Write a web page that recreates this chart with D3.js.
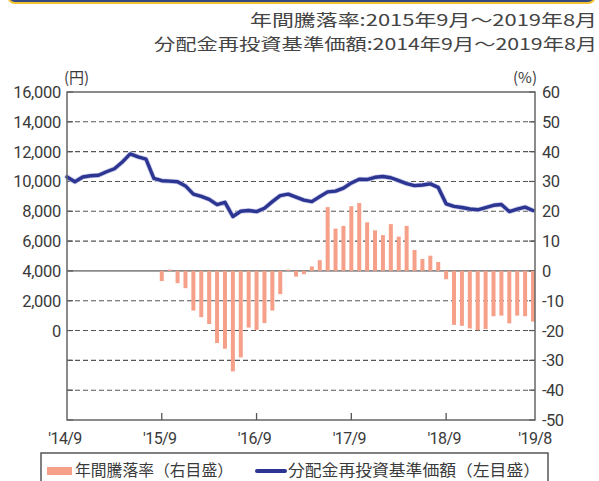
<!DOCTYPE html>
<html><head><meta charset="utf-8">
<script src="https://cdn.jsdelivr.net/npm/d3@7"></script>
<style>
html,body{margin:0;padding:0;background:#fff;}
svg{display:block;}
</style></head>
<body>
<svg id="chart" width="599" height="481"></svg>
<script>
// ---- data ----
const months = d3.timeMonth.range(new Date(2014, 8, 1), new Date(2019, 8, 1)).map(d3.timeFormat("%Y-%m"));
// 分配金再投資基準価額 (円), 2014/9 - 2019/8
const navValues = [
  10300, 9980, 10300, 10380, 10420, 10650, 10850, 11300, 11850, 11650,
  11500, 10200, 10050, 10020, 9980, 9700, 9150, 9000, 8800, 8450,
  8600, 7650, 8000, 8050, 7980, 8200, 8650, 9050, 9150, 8950,
  8750, 8650, 8980, 9300, 9350, 9550, 9900, 10150, 10130, 10280,
  10330, 10250, 10050, 9850, 9720, 9760, 9840, 9600, 8500, 8330,
  8250, 8150, 8100, 8250, 8400, 8450, 7980, 8150, 8280, 8050
];
// 年間騰落率 (%), 2015/9 - 2019/8
const returnMonths = months.slice(12);
const returnValues = [
  -3.4, 0.4, -4.1, -5.8, -13.3, -15.5, -17.8, -24.2, -26.1, -33.7,
  -29.0, -19.0, -19.8, -17.5, -13.3, -7.8, 0.4, -1.9, -1.1, 1.5,
  3.6, 21.4, 14.2, 15.1, 21.7, 22.8, 16.3, 13.6, 12.0, 15.7,
  11.5, 15.1, 7.0, 4.0, 5.1, 3.0, -2.8, -18.1, -18.4, -19.3,
  -19.9, -19.5, -15.2, -15.0, -17.6, -15.0, -15.2, -17.0
];
const xTickMonths = ["2014-09", "2015-09", "2016-09", "2017-09", "2018-09", "2019-08"];
const xTickLabels = ["'14/9", "'15/9", "'16/9", "'17/9", "'18/9", "'19/8"];
const leftTicks = [16000, 14000, 12000, 10000, 8000, 6000, 4000, 2000, 0];
const rightTicks = [60, 50, 40, 30, 20, 10, 0, -10, -20, -30, -40, -50];
const headerLines = ["年間騰落率:2015年9月～2019年8月", "分配金再投資基準価額:2014年9月～2019年8月"];
const legendLabels = ["年間騰落率（右目盛）", "分配金再投資基準価額（左目盛）"];
const leftUnit = "(円)", rightUnit = "(%)";

// ---- layout ----
const L = 67, R = 535, T = 92, B = 420;
const svg = d3.select("#chart");
const cjk = "'Noto Sans CJK JP', 'Noto Sans', sans-serif";
const num = "Roboto, 'Liberation Sans', sans-serif";
const txt = "#3a3a3a";

const x = d3.scalePoint().domain(months).range([L, 533]);
const yR = d3.scaleLinear().domain([-50, 60]).range([B, T]);
const yL = d3.scaleLinear().domain([-6000, 16000]).range([B, T]);

// header bar
svg.append("rect").attr("x", 8).attr("y", -22).attr("width", 587).attr("height", 25)
  .attr("rx", 7).attr("fill", "#33497f").attr("stroke", "#f2c230").attr("stroke-width", 2);

// header text
const hdrLen = [347, 443];
headerLines.forEach((t, i) => {
  svg.append("text").attr("x", 597).attr("y", 26 + i * 24)
    .attr("text-anchor", "end").attr("font-family", cjk).attr("font-size", 16)
    .attr("fill", "#444").attr("textLength", hdrLen[i]).attr("lengthAdjust", "spacingAndGlyphs")
    .text(t);
});

// gridlines
svg.append("g").selectAll("line").data(rightTicks.filter(d => d !== 60 && d !== -50)).join("line")
  .attr("x1", L).attr("x2", R).attr("y1", d => yR(d)).attr("y2", d => yR(d))
  .attr("stroke", d => d === 0 ? "#8a8a8a" : "#555")
  .attr("stroke-width", d => d === 0 ? 1.6 : 1.1)
  .attr("stroke-dasharray", d => d === 0 ? null : "5,3");

// inner ticks left/right
svg.append("g").selectAll("line").data(rightTicks).join("line")
  .attr("x1", L).attr("x2", L + 6).attr("y1", d => yR(d)).attr("y2", d => yR(d))
  .attr("stroke", "#555").attr("stroke-width", 1.2);
svg.append("g").selectAll("line").data(rightTicks).join("line")
  .attr("x1", R - 6).attr("x2", R).attr("y1", d => yR(d)).attr("y2", d => yR(d))
  .attr("stroke", "#555").attr("stroke-width", 1.2);

// bars
svg.append("g").selectAll("rect").data(returnValues).join("rect")
  .attr("x", (d, i) => x(returnMonths[i]) - 2)
  .attr("width", 4)
  .attr("y", d => Math.min(yR(d), yR(0)))
  .attr("height", d => Math.abs(yR(d) - yR(0)))
  .attr("fill", "#f6a089");

// line
const line = d3.line().x((d, i) => x(months[i])).y(d => yL(d));
svg.append("path").datum(navValues).attr("d", line)
  .attr("fill", "none").attr("stroke", "#c9cbe8").attr("stroke-width", 5)
  .attr("stroke-linejoin", "round").attr("stroke-linecap", "round");
svg.append("path").datum(navValues).attr("d", line)
  .attr("fill", "none").attr("stroke", "#2c3592").attr("stroke-width", 3.4)
  .attr("stroke-linejoin", "round").attr("stroke-linecap", "round");

// frame
svg.append("rect").attr("x", L).attr("y", T).attr("width", R - L).attr("height", B - T)
  .attr("fill", "none").attr("stroke", "#666").attr("stroke-width", 1.5);

// bottom ticks
svg.append("g").selectAll("line").data(xTickMonths.slice(1, 5)).join("line")
  .attr("x1", d => x(d)).attr("x2", d => x(d)).attr("y1", B).attr("y2", B - 7)
  .attr("stroke", "#555").attr("stroke-width", 1.3);

// left axis labels
svg.append("g").selectAll("text").data(leftTicks).join("text")
  .attr("x", 61).attr("y", d => yL(d) + 6).attr("text-anchor", "end")
  .attr("font-family", num).attr("font-size", 16.5).attr("fill", txt).attr("letter-spacing", -0.3)
  .text(d => d3.format(",")(d));

// right axis labels
svg.append("g").selectAll("text").data(rightTicks).join("text")
  .attr("x", 542).attr("y", d => yR(d) + 6).attr("text-anchor", "start")
  .attr("font-family", num).attr("font-size", 16.5).attr("fill", txt).attr("letter-spacing", -0.5)
  .text(d => d);

// x labels
svg.append("g").selectAll("text").data(xTickMonths).join("text")
  .attr("x", d => x(d) + (d === "2019-08" ? 2 : -2)).attr("y", 444).attr("text-anchor", "middle")
  .attr("font-family", num).attr("font-size", 16).attr("fill", txt).attr("letter-spacing", -0.6)
  .text((d, i) => xTickLabels[i]);

// units
svg.append("text").attr("x", 64).attr("y", 83).attr("font-family", cjk).attr("font-size", 15)
  .attr("fill", txt).text(leftUnit);
svg.append("text").attr("x", 537).attr("y", 83).attr("text-anchor", "end").attr("font-family", cjk)
  .attr("font-size", 15).attr("fill", txt).text(rightUnit);

// legend
svg.append("rect").attr("x", 41).attr("y", 453).attr("width", 507).attr("height", 40)
  .attr("fill", "#fff").attr("stroke", "#555").attr("stroke-width", 1.5);
svg.append("rect").attr("x", 47).attr("y", 467).attr("width", 25).attr("height", 8).attr("fill", "#f6a089");
svg.append("text").attr("x", 75).attr("y", 476).attr("font-family", cjk).attr("font-size", 15.5)
  .attr("fill", txt).attr("textLength", 158).attr("lengthAdjust", "spacingAndGlyphs").text(legendLabels[0]);
svg.append("line").attr("x1", 257).attr("x2", 285).attr("y1", 471).attr("y2", 471)
  .attr("stroke", "#2c3592").attr("stroke-width", 4).attr("stroke-linecap", "round");
svg.append("text").attr("x", 288).attr("y", 476).attr("font-family", cjk).attr("font-size", 15.5)
  .attr("fill", txt).attr("textLength", 252).attr("lengthAdjust", "spacingAndGlyphs").text(legendLabels[1]);
</script>
</body></html>
